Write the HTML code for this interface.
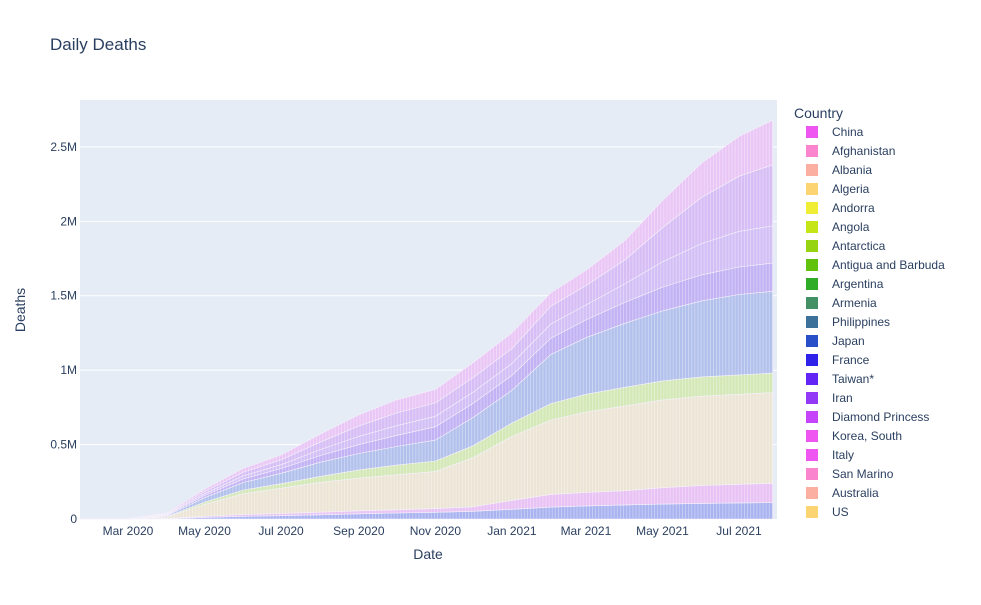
<!DOCTYPE html>
<html><head><meta charset="utf-8"><style>
body{margin:0;background:#fff;font-family:"Liberation Sans",Arial,sans-serif;}
svg text{font-family:"Liberation Sans",Arial,sans-serif;fill:#2a3f5f;}
</style></head><body>
<svg id="chart" width="981" height="600" xmlns="http://www.w3.org/2000/svg">
<defs><pattern id="stripes" width="3.1" height="10" patternUnits="userSpaceOnUse"><rect x="0" y="0" width="0.9" height="10" fill="#fff" fill-opacity="0.35"/></pattern></defs>
<rect width="981" height="600" fill="#fff"/>
<text x="50" y="50" font-size="17">Daily Deaths</text>
<rect x="80" y="100" width="697" height="419" fill="#e5ecf6"/>
<g id="grid"></g><g id="areas"></g><g id="xticks"></g><g id="yticks"></g>
<text x="428" y="559" font-size="14" text-anchor="middle">Date</text>
<text transform="translate(25,310) rotate(-90)" font-size="14" text-anchor="middle">Deaths</text>
<text x="794" y="118" font-size="14">Country</text>
<g id="legend"></g>
</svg>
<script>
const dates=["2020-01-22","2020-03-01","2020-04-01","2020-05-01","2020-06-01","2020-07-01","2020-08-01","2020-09-01","2020-10-01","2020-11-01","2020-12-01","2021-01-01","2021-02-01","2021-03-01","2021-04-01","2021-05-01","2021-06-01","2021-07-01","2021-07-28"];
const layer1=[0,0,2,10,18,22,28,35,40,45,52,65,80,88,95,100,105,108,110];
const layer2=[0,0,2,8,12,15,18,20,22,25,30,60,85,90,95,110,120,125,130];
const layer3=[0,0,10,80,140,170,200,220,235,250,330,430,500,540,570,590,600,605,610];
const layer4=[0,0,3,15,25,30,40,55,65,70,80,90,110,120,125,128,130,130,130];
const layer5=[0,0,5,30,50,70,95,110,125,140,190,220,330,380,430,470,510,540,550];
const layer6=[0,1,5,15,25,32,45,60,75,90,95,100,110,120,140,160,175,185,190];
const layer7=[0,1,4,12,20,26,40,55,65,70,75,80,95,100,125,170,210,240,250];
const layer8=[0,0,4,14,25,32,50,70,85,90,98,100,120,130,160,230,310,370,410];
const layer9=[0,1,5,16,25,33,54,75,88,90,100,105,90,102,130,182,230,267,300];
const layers=[layer1,layer2,layer3,layer4,layer5,layer6,layer7,layer8,layer9];
const layerColors=["#a9b3f0","#e8c2f4","#ece5d6","#d3e8b6","#b2c0ec","#c2b2f4","#d2bff6","#d6bdf5","#e9c6f5"];
const yTickVals=[0,500,1000,1500,2000,2500];
const yTickLabels=["0","0.5M","1M","1.5M","2M","2.5M"];
const xTickDates=["2020-03-01","2020-05-01","2020-07-01","2020-09-01","2020-11-01","2021-01-01","2021-03-01","2021-05-01","2021-07-01"];
const xTickLabels=["Mar 2020","May 2020","Jul 2020","Sep 2020","Nov 2020","Jan 2021","Mar 2021","May 2021","Jul 2021"];
const countries=["China","Afghanistan","Albania","Algeria","Andorra","Angola","Antarctica","Antigua and Barbuda","Argentina","Armenia","Philippines","Japan","France","Taiwan*","Iran","Diamond Princess","Korea, South","Italy","San Marino","Australia","US"];
const countryColors=["#EF55F1","#FB84CE","#FBAFA1","#FCD471","#F0ED35","#C6E516","#96D310","#61C10B","#31AC28","#439064","#3D719A","#284EC8","#2E21EA","#6324F5","#9139F6","#C543FA","#EF55F1","#EF55F1","#FB84CE","#FBAFA1","#FCD471"];
const NS="http://www.w3.org/2000/svg";
const t0=Date.UTC(2020,2,1);
function xs(d){const p=d.split("-").map(Number);return 128+(Date.UTC(p[0],p[1]-1,p[2])-t0)/86400000*1.2546;}
function ys(v){return 519-v*0.14884;}
function mk(tag,attrs,parent){const e=document.createElementNS(NS,tag);for(const k in attrs)e.setAttribute(k,attrs[k]);parent.appendChild(e);return e;}
const grid=document.getElementById("grid"),yt=document.getElementById("yticks");
yTickVals.forEach((v,i)=>{
 if(i>0){const l=mk("line",{x1:80,x2:777,y1:ys(v),y2:ys(v),stroke:"#fff","stroke-width":1},grid);
 
 }
 const t=mk("text",{x:77,y:ys(v)+4,"font-size":12,"text-anchor":"end"},yt);t.textContent=yTickLabels[i];
 
 
});
const xt=document.getElementById("xticks");
xTickDates.forEach((d,i)=>{const t=mk("text",{x:xs(d),y:535,"font-size":12,"text-anchor":"middle"},xt);t.textContent=xTickLabels[i];
 
 });
const areas=document.getElementById("areas");
let base=dates.map(()=>0);
layers.forEach((L,li)=>{
 const top=base.map((b,i)=>b+L[i]);
 let pts=dates.map((d,i)=>xs(d).toFixed(1)+","+ys(top[i]).toFixed(1));
 for(let i=dates.length-1;i>=0;i--)pts.push(xs(dates[i]).toFixed(1)+","+ys(base[i]).toFixed(1));
 const p=mk("polygon",{points:pts.join(" "),fill:layerColors[li],stroke:"#f4f0fa","stroke-width":0.6},areas);
 
 
 const s=mk("polygon",{points:pts.join(" "),fill:"url(#stripes)"},areas);
 
 
 base=top;
});
const lg=document.getElementById("legend");
countries.forEach((c,i)=>{const y=132+i*19;
 const g=mk("g",{},lg);
 
 
 mk("rect",{x:806,y:y-6,width:12,height:12,fill:countryColors[i]},g);
 const t=mk("text",{x:832,y:y+4,"font-size":12},g);t.textContent=c;});
</script>
</body></html>
